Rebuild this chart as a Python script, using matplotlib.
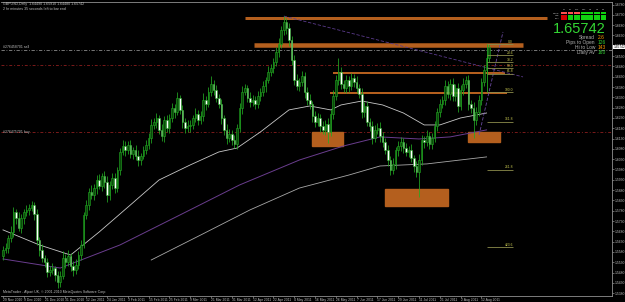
import matplotlib
matplotlib.use("Agg")
import matplotlib.pyplot as plt
import numpy as np
import pandas as pd

# GBPUSD daily, 29 Nov 2010 .. 17 Aug 2011
first_open = 1.5560
closes = [
    1.5590, 1.5599, 1.5648, 1.5677, 1.5774, 1.5745, 1.5696, 1.5745, 1.5774,
    1.5784, 1.5793, 1.5808, 1.5764, 1.5638, 1.5590, 1.5551, 1.5531,
    1.5483, 1.5493, 1.5502, 1.5468, 1.5434, 1.5463, 1.5551,
    1.5531, 1.5560, 1.5512, 1.5493, 1.5517, 1.5565, 1.5614, 1.5759,
    1.5808, 1.5871, 1.5856, 1.5890, 1.5929, 1.5900, 1.5948, 1.5919,
    1.5856, 1.5905, 1.5939, 1.5890, 1.5978, 1.6065, 1.6094, 1.6075,
    1.6099, 1.6055, 1.6075, 1.6046, 1.6026, 1.6046, 1.6075, 1.6099,
    1.6133, 1.6196, 1.6210, 1.6230, 1.6172, 1.6143, 1.6220, 1.6181,
    1.6230, 1.6278, 1.6259, 1.6327, 1.6269, 1.6210, 1.6181, 1.6191,
    1.6196, 1.6230, 1.6249, 1.6220, 1.6239, 1.6317, 1.6298, 1.6356,
    1.6395, 1.6366, 1.6327, 1.6298, 1.6230, 1.6172, 1.6133, 1.6152,
    1.6123, 1.6104, 1.6181, 1.6278, 1.6356, 1.6375, 1.6327, 1.6307,
    1.6317, 1.6298, 1.6336, 1.6356, 1.6385, 1.6414, 1.6453, 1.6472,
    1.6501, 1.6550, 1.6589, 1.6656, 1.6695, 1.6666, 1.6608, 1.6511,
    1.6414, 1.6385, 1.6404, 1.6433, 1.6356, 1.6317, 1.6298, 1.6240,
    1.6210, 1.6230, 1.6191, 1.6172, 1.6201, 1.6162, 1.6249, 1.6336,
    1.6414, 1.6453, 1.6395, 1.6375, 1.6414, 1.6385, 1.6424, 1.6404,
    1.6375, 1.6346, 1.6259, 1.6288, 1.6210, 1.6191, 1.6133, 1.6172,
    1.6181, 1.6143, 1.6113, 1.6075, 1.6026, 1.5978, 1.6007, 1.6075,
    1.6094, 1.6113, 1.6084, 1.6065, 1.6075, 1.6036, 1.5997, 1.5968,
    1.6026,
    1.6123, 1.6113, 1.6143, 1.6104, 1.6133, 1.6191, 1.6259,
    1.6298, 1.6317, 1.6385, 1.6346, 1.6395, 1.6336, 1.6375, 1.6288,
    1.6366, 1.6395, 1.6414, 1.6298, 1.6278, 1.6220, 1.6259, 1.6317,
    1.6404, 1.6463, 1.6521, 1.65742,
]
upper_pips = [
    18, 25, 12, 30, 22, 15, 28, 20, 14,
    26, 18, 20, 12, 24, 16, 30, 14,
    22, 18, 25, 12, 20, 26, 35,
    20, 28, 15, 22, 30, 18, 24, 16,
    25, 20, 32, 18, 22, 28, 15, 24,
    30, 18, 22, 26, 14, 20, 28, 22,
    18, 24, 16, 22, 30, 14, 20, 26,
    22, 28, 18, 24, 16, 30, 20, 25,
    18, 26, 22, 30, 14, 24, 20, 28,
    22, 16, 28, 20, 24, 35, 18, 22,
    40, 20, 26, 18, 24, 16, 28, 22,
    20, 26, 18, 24, 30, 22, 16, 28,
    22, 18, 26, 20, 24, 16, 28, 22,
    18, 26, 30, 22, 29, 20, 26, 18,
    24, 28, 20, 26, 18, 22, 30, 16,
    22, 26, 18, 24, 20, 28, 22, 30,
    24, 68, 22, 18, 26, 20, 24, 18,
    28, 22, 30, 18, 24, 20, 26, 22,
    24, 30, 18, 22, 26, 20, 28, 16,
    22, 26, 18, 24, 20, 28, 16, 22,
    30,
    24, 20, 28, 18, 22, 26, 20,
    26, 18, 30, 22, 24, 28, 20, 26,
    22, 30, 18, 24, 20, 28, 22, 26,
    20, 24, 18, 15,
]
lower_pips = [
    20, 14, 26, 18, 24, 30, 16, 22, 28,
    18, 24, 16, 28, 22, 30, 18, 24,
    26, 20, 18, 28, 30, 24, 16,
    28, 20, 24, 30, 18, 22, 26, 14,
    20, 26, 18, 24, 28, 16, 22, 30,
    34, 22, 18, 26, 20, 24, 16, 28,
    22, 18, 26, 20, 28, 24, 16, 22,
    18, 24, 20, 28, 22, 26, 30, 18,
    24, 20, 28, 16, 22, 30, 26, 18,
    28, 22, 18, 26, 20, 24, 28, 16,
    20, 26, 22, 18, 28, 24, 30, 20,
    26, 18, 24, 20, 28, 16, 22, 26,
    20, 24, 18, 26, 22, 28, 16, 20,
    22, 18, 26, 20, 24, 28, 30, 22,
    26, 20, 24, 18, 28, 22, 26, 30,
    24, 18, 28, 22, 26, 54, 20, 24,
    18, 22, 26, 20, 24, 28, 18, 22,
    26, 20, 28, 24, 18, 26, 30, 22,
    20, 28, 24, 22, 30, 26, 18, 24,
    28, 22, 26, 20, 24, 18, 30, 26,
    120,
    22, 28, 18, 24, 26, 20, 22,
    24, 20, 26, 18, 28, 22, 26, 30,
    20, 24, 18, 28, 22, 87, 26, 20,
    24, 18, 22, 20,
]
dates = pd.bdate_range("2010-11-29", periods=len(closes))

# moving averages (bar index, price)
fast_ma_bar = [0, 14, 26, 37, 49, 60, 72, 83, 90, 99, 110, 118, 126, 130, 138, 146, 154, 162, 168, 176, 186]
fast_ma = [1.5687, 1.5614, 1.5565, 1.5677, 1.5808, 1.5929, 1.6002, 1.6065, 1.6084, 1.6162, 1.6269,
           1.6288, 1.6269, 1.6293, 1.6312, 1.6293, 1.6254, 1.6196, 1.6196, 1.6230, 1.6254]
mid_ma_bar = [0, 22, 45, 68, 91, 114, 131, 145, 160, 172, 186]
mid_ma = [1.5546, 1.5502, 1.5614, 1.5759, 1.5905, 1.6026, 1.6094, 1.6138, 1.6128, 1.6138, 1.6172]
slow_ma_bar = [57, 76, 95, 114, 133, 145, 163, 186]
slow_ma = [1.5541, 1.5662, 1.5784, 1.5890, 1.5953, 1.5997, 1.6007, 1.6041]

# horizontal zones: price, start bar, end bar, thickness px
level_price = [1.6715, 1.6586, 1.6448, 1.6351]
level_start = [93.1, 96.5, 126.9, 125.8]
level_end = [209.2, 200.0, 193.1, 193.8]
level_px = [3.0, 4.5, 2.0, 2.0]

# boxes: left bar, right bar, bottom, top
box_left = [118.8, 178.8, 146.9]
box_right = [130.8, 191.2, 171.2]
box_bottom = [1.6094, 1.6113, 1.5803]
box_top = [1.6162, 1.6162, 1.5885]

fib_high = 1.6589
fib_low = 1.6356
fib_levels = [0.0, 23.6, 38.2, 50.0, 61.8, 100.0, 161.8, 261.8, 423.6]

sell_price = 1.6560
sell_stop = 1.6487
buy_price = 1.6162
bid = 1.65742

# trend lines (bar, price)
down_trend = ([108, 200], [1.6724, 1.6429])
up_trend = ([183.1, 192.3], [1.6147, 1.6647])

# top right panel
panel_cols = ["M1", "M5", "M15", "M30", "H1", "H4", "D1"]
panel_rows = ["MACD", "STR", "EMA"]
panel_cells = [
    ["#ff5050", "#ff5050", "#ff5050", "#10d010", "#10d010", "#10d010", "#10d010"],
    ["#d00000", "#10d010", "#10d010", "#10d010", "#10d010", "#10d010", "#10d010"],
    ["#d00000", "#10d010", "#10d010", "#10d010", "#10d010", "#10d010", "#10d010"],
]
info_labels = ["Spread", "Pips to Open", "Hi to Low", "Daily Av"]
info_values = ["2.6", "126", "143", "160"]
info_colors = ["#ff9a00", "#30d030", "#ff9a00", "#30d030"]

ORANGE = "#b45f1e"
GREEN = "#22aa22"
FONT = "Liberation Sans"

closes = np.array(closes)
opens = np.concatenate([[first_open], closes[:-1]])
highs = np.maximum(opens, closes) + np.array(upper_pips) * 0.0001
lows = np.minimum(opens, closes) - np.array(lower_pips) * 0.0001
x = np.arange(len(closes))

plt.rcParams["font.family"] = FONT

fig = plt.figure(figsize=(6.25, 3.02), dpi=100, facecolor="black")
ax = fig.add_axes([1 / 625, 6 / 302, 611 / 625, 294 / 302], facecolor="black")
ax.set_xlim(-0.77, -0.77 + 611 / 2.6)
ax.set_ylim(1.53664, 1.67923)

# dashed order lines
ax.axhline(sell_price, color="#8a8a8a", lw=0.6, ls=(0, (4, 2, 1, 2)), zorder=1)
ax.axhline(sell_stop, color="#7a1a1a", lw=0.7, ls=(0, (3, 2, 1, 2)), zorder=1)
ax.axhline(buy_price, color="#7a1a1a", lw=0.7, ls=(0, (3, 2, 1, 2)), zorder=1)

# orange zones
for p, s, e, t in zip(level_price, level_start, level_end, level_px):
    ax.hlines(p, s, e, color=ORANGE, lw=t * 0.72, zorder=2)
for l, r, b, t in zip(box_left, box_right, box_bottom, box_top):
    ax.add_patch(plt.Rectangle((l, b), r - l, t - b, color=ORANGE, zorder=2))

# moving averages
ax.plot(fast_ma_bar, fast_ma, color="#c8c8c8", lw=0.6, zorder=3)
ax.plot(mid_ma_bar, mid_ma, color="#6a3d8e", lw=0.7, zorder=3)
ax.plot(slow_ma_bar, slow_ma, color="#a8a8a8", lw=0.6, zorder=3)

# trend lines
ax.plot(*down_trend, color="#5a3a8a", lw=0.6, ls=(0, (4, 2)), zorder=3)
ax.plot(*up_trend, color="#6a4aa0", lw=0.6, ls=(0, (4, 2)), zorder=3)

# candles
ax.vlines(x, lows, highs, color=GREEN, lw=0.55, zorder=4)
bull = closes >= opens
ax.bar(x[bull], (closes - opens)[bull], bottom=opens[bull], width=0.62,
       facecolor="#0a4a0a", edgecolor=GREEN, lw=0.4, zorder=5)
ax.bar(x[~bull], (opens - closes)[~bull], bottom=closes[~bull], width=0.62,
       facecolor="white", edgecolor=GREEN, lw=0.4, zorder=5)

# fibonacci
fib_x0, fib_x1 = 186.2, 196.2
ax.plot([fib_x0, fib_x0], [fib_low, fib_high], color=GREEN, lw=0.6, zorder=6)
for lv in fib_levels:
    p = fib_high - lv / 100 * (fib_high - fib_low)
    ax.hlines(p, fib_x0, fib_x1, color="#8c8c4c", lw=0.6, zorder=6)
    ax.text(fib_x1, p + 0.0002, f"{lv:.1f}", color="#c8c850", fontsize=2.4,
            ha="right", va="bottom", zorder=7)

# axes styling
ax.spines["left"].set_visible(False)
for side in ["right", "bottom", "top"]:
    ax.spines[side].set_color("#909090")
    ax.spines[side].set_linewidth(0.6)
yt = np.arange(1.5380, 1.6790, 0.0050)
ax.yaxis.tick_right()
ax.set_yticks(yt)
ax.set_yticklabels([f"{v:.4f}" for v in yt])
ticks = x[::8]
ax.set_xticks(ticks)
ax.set_xticklabels([d.strftime("%-d %b %Y") for d in dates[ticks]], ha="left")
ax.tick_params(colors="#909090", labelcolor="#c0c0c0", labelsize=2.4,
               length=1.2, width=0.5, pad=0.5)
ax.text(1.002, bid, f"{bid:.5f}", transform=ax.get_yaxis_transform(),
        fontsize=2.3, color="black", va="center", ha="left",
        bbox=dict(boxstyle="square,pad=0.12", fc="white", ec="none"))

# overlay in pixel coordinates
ov = fig.add_axes([0, 0, 1, 1], facecolor="none")
ov.set_xlim(0, 625)
ov.set_ylim(302, 0)
ov.axis("off")
ov.text(3, 4.5, "GBPUSD,Daily  1.64490 1.65910 1.64480 1.65742", color="#c0c0c0",
        fontsize=2.6, va="center")
ov.text(3, 9, "2 hr minutes 35 seconds left to bar end", color="#c0c0c0",
        fontsize=2.6, va="center")
ov.text(3, 292, "MetaTrader - Alpari UK, \u00a9 2001-2010 MetaQuotes Software Corp.",
        color="#c0c0c0", fontsize=2.5, va="center")
ov.text(3, 47, "#276458701 sell", color="#c0c0c0", fontsize=2.5, va="center")
ov.text(3, 132, "#276475701 buy", color="#c0c0c0", fontsize=2.5, va="center")

for j, name in enumerate(panel_cols):
    ov.text(564 + 6.6 * j, 9.5, name, color="#c0c0c0", fontsize=1.6,
            ha="center", va="center")
for i, name in enumerate(panel_rows):
    ov.text(559.5, 13.2 + 2.7 * i, name, color="#c0c0c0", fontsize=1.6,
            ha="right", va="center")
    for j, c in enumerate(panel_cells[i]):
        ov.add_patch(plt.Rectangle((561 + 6.6 * j, 12 + 2.7 * i), 5.8, 2.3,
                                   color=c, lw=0))
ov.text(606, 33, f"{bid:.5f}", color="#33d633", fontsize=10.5,
        ha="right", va="baseline")
for i, (lab, val, col) in enumerate(zip(info_labels, info_values, info_colors)):
    yy = 37.8 + 4.8 * i
    ov.text(595, yy, lab, color="#b0b0b0", fontsize=3.5, ha="right", va="center")
    ov.text(597.5, yy, val, color=col, fontsize=3.5, ha="left", va="center")

fig.savefig("out.png", dpi=100, facecolor="black")
